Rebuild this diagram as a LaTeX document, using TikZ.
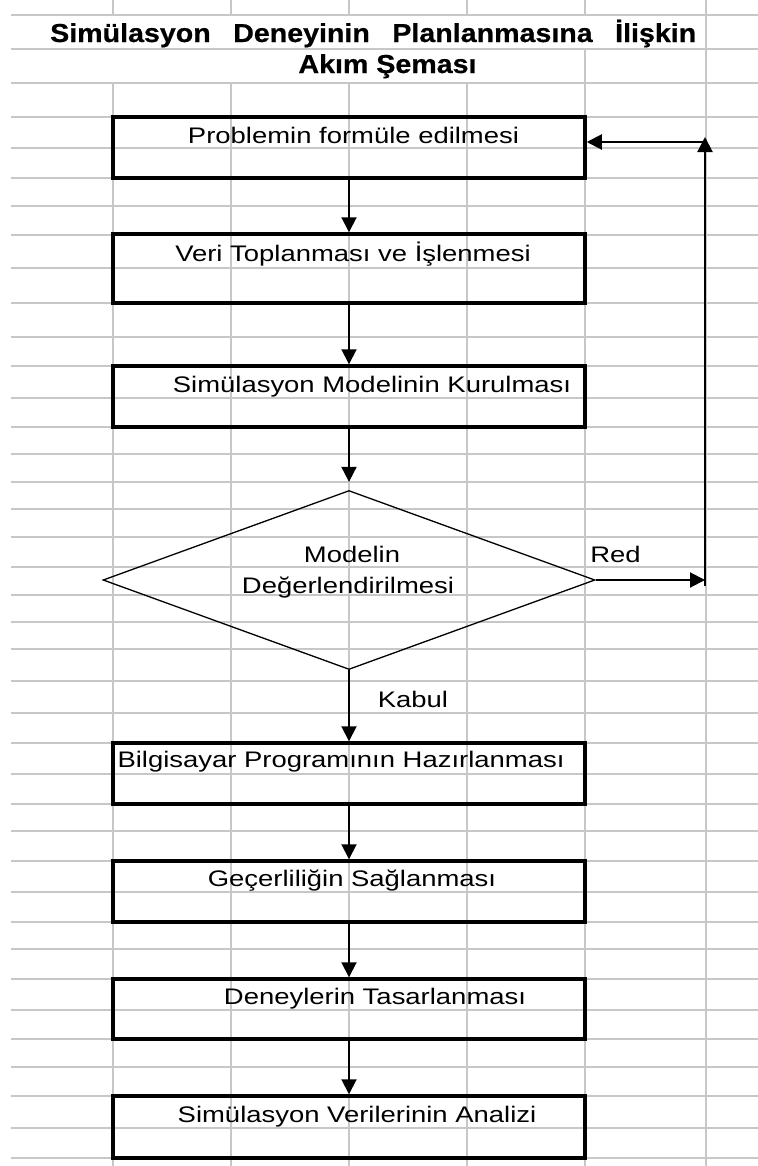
\documentclass[tikz,border=0pt]{standalone}
\usepackage{fontspec}
\setmainfont{Liberation Sans}
\newfontfamily\boxfont[FakeStretch=1.22]{Liberation Sans}
\newfontfamily\titlefont[FakeStretch=1.1,BoldFeatures={FakeBold=0.6}]{Liberation Sans}
\usetikzlibrary{arrows.meta,shapes.geometric}
\begin{document}
\begin{tikzpicture}[x=1bp,y=-1bp,
  gridline/.style={draw=black!22, line width=1.6bp},
  stepbox/.style={draw, rectangle, line width=3.5bp, minimum width=472bp, inner sep=0},
  decision/.style={draw, diamond, line width=1.3bp, minimum width=492bp, minimum height=179bp, inner sep=0},
  lbl/.style={inner sep=0, anchor=base, font=\boxfont\fontsize{22.5bp}{31bp}\selectfont},
  ttl/.style={inner sep=0, font=\titlefont\bfseries\fontsize{26bp}{30bp}\selectfont},
  arr/.style={line width=2bp, -{Triangle[length=15bp,width=15bp]}}]
\useasboundingbox (0,0) rectangle (758,1166);
\fill[white] (0,0) rectangle (758,1166);
% spreadsheet grid
\foreach \y in {15,49,83,117,148,178,206,235,268,303,337,366,398,427,454,482,509,537,567,595,622,649,681,713,743,774,804,831,861,892,922,949,979,1010,1039,1067,1096,1128,1158}
  \draw[gridline] (11,\y) -- (758,\y);
\foreach \x in {113,231,349,467,585}{
  \draw[gridline] (\x,0) -- (\x,15);
  \draw[gridline] (\x,83) -- (\x,1166);}
\draw[gridline] (585,49) -- (585,83);
\draw[gridline] (706,0) -- (706,1166);
% title
\node[ttl, anchor=base west] (title1) at (50,42)
  {\hbox to 646bp{Simülasyon\hfill Deneyinin\hfill Planlanmasına\hfill İlişkin}};
\node[ttl, anchor=base] (title2) at (387.5,73) {Akım Şeması};
% boxes
\node[stepbox, minimum height=61bp] (b1) at (349,147.5) {};
\node[stepbox, minimum height=69bp] (b2) at (349,268.5) {};
\node[stepbox, minimum height=61bp] (b3) at (349,396.5) {};
\node[decision] (d) at (349,580) {};
\node[stepbox, minimum height=61bp] (b4) at (349,773.5) {};
\node[stepbox, minimum height=61bp] (b5) at (349,891.5) {};
\node[stepbox, minimum height=60bp] (b6) at (349,1009) {};
\node[stepbox, minimum height=62bp] (b7) at (349,1127) {};
% texts
\node[lbl] (t1) at (353.5,143) {Problemin formüle edilmesi};
\node[lbl] (t2) at (353,261) {Veri Toplanması ve İşlenmesi};
\node[lbl] (t3) at (372,392) {Simülasyon Modelinin Kurulması};
\node[lbl] (dt1) at (352,562) {Modelin};
\node[lbl] (dt2) at (348,593) {Değerlendirilmesi};
\node[lbl] (t4) at (341,767) {Bilgisayar Programının Hazırlanması};
\node[lbl] (t5) at (352,886) {Geçerliliğin Sağlanması};
\node[lbl] (t6) at (375,1004) {Deneylerin Tasarlanması};
\node[lbl] (t7) at (357,1122) {Simülasyon Verilerinin Analizi};
\node[lbl] (red) at (615.5,562) {Red};
\node[lbl] (kabul) at (413,707) {Kabul};
% connectors
\draw[arr] (b1.south) -- (b2.north);
\draw[arr] (b2.south) -- (b3.north);
\draw[arr, shorten >=8bp] (b3.south) -- (d.north);
\draw[arr] (d.south) -- (b4.north);
\draw[arr] (b4.south) -- (b5.north);
\draw[arr] (b5.south) -- (b6.north);
\draw[arr] (b6.south) -- (b7.north);
\coordinate (c1) at (705,580);
\coordinate (c2) at (705,586);
\coordinate (c3) at (705,137);
\coordinate (c4) at (705,142);
\draw[arr] (d.east) -- (c1);
\draw[arr] (c2) -- (c3);
\draw[arr] (c4) -- (b1.east |- c4);
\end{tikzpicture}
\end{document}
